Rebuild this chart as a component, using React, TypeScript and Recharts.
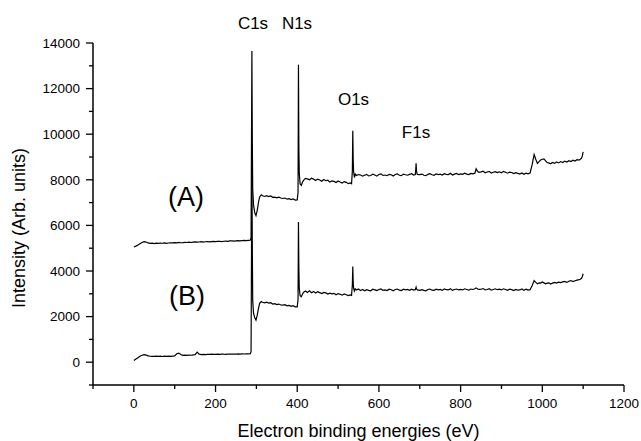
import React from 'react';
import { LineChart, Line, XAxis, YAxis } from 'recharts';

// Binding energy grid (eV)
const energy = [
  0, 5, 10, 15, 20, 25, 30, 35, 40, 45,
  50, 55, 60, 65, 70, 75, 80, 85, 90, 95,
  100, 105, 110, 115, 120, 125, 130, 135, 140, 145,
  150, 155, 160, 165, 170, 175, 180, 185, 190, 195,
  200, 205, 210, 215, 220, 225, 230, 235, 240, 245,
  250, 255, 260, 265, 270, 275, 280, 285, 287, 289,
  290, 291, 293, 296, 299, 302, 305, 308, 312, 315,
  320, 325, 330, 335, 340, 345, 350, 355, 360, 365,
  370, 375, 380, 385, 390, 395, 400, 402, 403, 404,
  405, 407, 410, 413, 416, 420, 425, 430, 435, 440,
  445, 450, 455, 460, 465, 470, 475, 480, 485, 490,
  495, 500, 505, 510, 515, 520, 525, 530, 533, 535,
  536, 537, 538, 540, 542, 545, 550, 555, 560, 565,
  570, 575, 580, 585, 590, 595, 600, 605, 610, 615,
  620, 625, 630, 635, 640, 645, 650, 655, 660, 665,
  670, 675, 680, 685, 689, 690, 691, 692, 694, 700,
  705, 710, 715, 720, 725, 730, 735, 740, 745, 750,
  755, 760, 765, 770, 775, 780, 785, 790, 795, 800,
  805, 810, 815, 820, 825, 830, 835, 838, 842, 845,
  850, 855, 860, 865, 870, 875, 880, 885, 890, 895,
  900, 905, 910, 915, 920, 925, 930, 935, 940, 945,
  950, 955, 960, 965, 970, 975, 980, 984, 988, 992,
  996, 1000, 1004, 1008, 1012, 1016, 1020, 1025, 1030, 1035,
  1040, 1045, 1050, 1055, 1060, 1065, 1070, 1075, 1080, 1085,
  1090, 1093, 1096, 1098, 1100,
];

// Spectrum (A)
const intensityA = [
  5050, 5090, 5140, 5200, 5250, 5290, 5270, 5230, 5215, 5225,
  5205, 5220, 5210, 5228, 5218, 5232, 5215, 5228, 5238, 5230,
  5242, 5235, 5252, 5240, 5248, 5258, 5250, 5262, 5250, 5268,
  5280, 5264, 5272, 5290, 5268, 5282, 5288, 5278, 5292, 5302,
  5286, 5296, 5304, 5292, 5306, 5312, 5300, 5318, 5322, 5310,
  5322, 5332, 5320, 5334, 5342, 5330, 5345, 5350, 5450, 13650,
  9800, 7600, 6900, 6550, 6430, 6650, 7000, 7250, 7340, 7300,
  7270, 7300, 7260, 7290, 7230, 7240, 7210, 7240, 7200, 7180,
  7200, 7150, 7170, 7130, 7160, 7110, 7120, 7450, 13050, 9400,
  8300, 7820, 7760, 7900, 7990, 8060, 8040, 8000, 8070, 8030,
  7970, 8030, 7990, 7940, 8010, 7960, 7980, 7900, 7950, 7930,
  7880, 7950, 7900, 7860, 7920, 7890, 7830, 7860, 7830, 8400,
  10150, 8900, 8350, 8100, 8250, 8190, 8230, 8210, 8160, 8200,
  8240, 8170, 8190, 8250, 8210, 8160, 8230, 8260, 8190, 8210,
  8180, 8240, 8220, 8170, 8230, 8260, 8200, 8180, 8250, 8220,
  8200, 8240, 8270, 8210, 8230, 8400, 8720, 8380, 8240, 8230,
  8250, 8200, 8180, 8240, 8270, 8220, 8200, 8260, 8230, 8250,
  8210, 8270, 8240, 8230, 8290, 8210, 8250, 8280, 8230, 8260,
  8240, 8290, 8250, 8230, 8280, 8260, 8290, 8480, 8360, 8330,
  8350, 8380, 8310, 8340, 8370, 8300, 8330, 8360, 8320, 8350,
  8310, 8370, 8330, 8290, 8340, 8320, 8270, 8310, 8280, 8250,
  8300, 8240, 8290, 8260, 8300, 8650, 9110, 8900, 8720, 8800,
  8870, 8900, 8920, 8830, 8760, 8740, 8700, 8760, 8720, 8780,
  8740, 8800, 8760, 8820, 8780, 8840, 8800, 8860, 8820, 8880,
  8860, 8900, 8950, 9050, 9220,
];

// Spectrum (B)
const intensityB = [
  75, 140, 200, 260, 305, 335, 310, 275, 262, 255,
  252, 268, 256, 262, 250, 266, 256, 262, 252, 266,
  272, 370, 400, 340, 300, 312, 298, 312, 305, 322,
  330, 440, 352, 332, 342, 336, 346, 340, 350, 346,
  342, 352, 346, 356, 350, 346, 356, 350, 360, 356,
  350, 362, 356, 366, 360, 370, 364, 372, 460, 8600,
  5200, 2700, 2150, 1950, 1850, 2050, 2350, 2580, 2660, 2630,
  2600, 2630, 2590, 2610, 2550, 2570, 2530, 2550, 2510, 2500,
  2520, 2470, 2490, 2450, 2480, 2430, 2430, 2750, 6150, 4100,
  3250, 2920, 2870, 2990, 3070, 3120, 3060, 3130, 3050, 3100,
  3030, 3090, 3050, 3010, 3060, 3040, 2990, 3030, 3000, 3020,
  2960, 3010, 2980, 2940, 2990, 2960, 2920, 2950, 2930, 3400,
  4200, 3500, 3250, 3120, 3220, 3170, 3210, 3140, 3190, 3130,
  3180, 3150, 3130, 3200, 3170, 3140, 3190, 3210, 3150, 3170,
  3140, 3200, 3180, 3130, 3190, 3210, 3160, 3140, 3200, 3170,
  3190, 3150, 3200, 3160, 3180, 3230, 3290, 3220, 3170, 3150,
  3180, 3150, 3130, 3190, 3210, 3160, 3150, 3200, 3170, 3190,
  3150, 3210, 3180, 3170, 3220, 3150, 3190, 3210, 3170, 3190,
  3170, 3220, 3190, 3160, 3210, 3190, 3220, 3260, 3210, 3190,
  3200, 3230, 3170, 3190, 3220, 3160, 3190, 3220, 3180, 3200,
  3170, 3220, 3190, 3150, 3200, 3180, 3140, 3190, 3160, 3170,
  3210, 3150, 3200, 3160, 3180, 3350, 3580, 3500, 3440, 3480,
  3470, 3520, 3480, 3440, 3470, 3480, 3430, 3470, 3500, 3470,
  3510, 3490, 3520, 3540, 3500, 3550, 3580, 3540, 3570, 3600,
  3620, 3640, 3680, 3760, 3880,
];

const xTicks = [-100, 0, 100, 200, 300, 400, 500, 600, 700, 800, 900, 1000, 1100, 1200];
const yTicks = [-1000, 0, 1000, 2000, 3000, 4000, 5000, 6000, 7000, 8000, 9000, 10000, 11000, 12000, 13000, 14000];
const peakNames = ['C1s', 'N1s', 'O1s', 'F1s'];
const sampleNames = ['(A)', '(B)'];
const xTitle = 'Electron binding energies (eV)';
const yTitle = 'Intensity (Arb. units)';

const rows = energy.map((e, i) => ({ e, a: intensityA[i], b: intensityB[i] }));

const FONT = '"Liberation Sans", Arial, Helvetica, sans-serif';
const TICK = 7;
const GAP = 6;

const YTick = (props: any) => {
  const { x, y, payload } = props;
  const v = payload.value;
  const major = v % 2000 === 0;
  const axisX = x + TICK + GAP;
  return (
    <g>
      <line x1={axisX - (major ? TICK : 4)} x2={axisX} y1={y} y2={y} stroke="#000" strokeWidth={1.3} />
      {major && (
        <text x={x} y={y} dy="0.355em" textAnchor="end" fontSize={13.5} fontFamily={FONT} fill="#000">
          {v}
        </text>
      )}
    </g>
  );
};

const XTick = (props: any) => {
  const { x, y, payload } = props;
  const v = payload.value;
  const major = v % 200 === 0;
  const axisY = y - TICK - GAP;
  return (
    <g>
      <line x1={x} x2={x} y1={axisY} y2={axisY + (major ? TICK : 4)} stroke="#000" strokeWidth={1.3} />
      {major && (
        <text x={x} y={y} dy="0.71em" textAnchor="middle" fontSize={13.5} fontFamily={FONT} fill="#000">
          {v}
        </text>
      )}
    </g>
  );
};

export default function App() {
  return (
    <div style={{ position: 'absolute', left: 0, top: 0, width: 641, height: 441, background: '#fff' }}>
      <LineChart width={641} height={441} data={rows} margin={{ top: 43, right: 17, bottom: 0, left: 0 }}>
        <XAxis
          type="number"
          dataKey="e"
          domain={[-100, 1200]}
          ticks={xTicks}
          interval={0}
          height={56}
          axisLine={{ stroke: '#000', strokeWidth: 1.5 }}
          tickLine={false}
          tickSize={TICK}
          tickMargin={GAP}
          tick={<XTick />}
          allowDataOverflow
        />
        <YAxis
          type="number"
          domain={[-1000, 14000]}
          ticks={yTicks}
          interval={0}
          width={93}
          axisLine={{ stroke: '#000', strokeWidth: 1.5 }}
          tickLine={false}
          tickSize={TICK}
          tickMargin={GAP}
          tick={<YTick />}
          allowDataOverflow
        />
        <Line type="linear" dataKey="a" stroke="#000" strokeWidth={1.2} dot={false} isAnimationActive={false} />
        <Line type="linear" dataKey="b" stroke="#000" strokeWidth={1.2} dot={false} isAnimationActive={false} />
        <g fontFamily={FONT} fill="#000">
          <text x={253} y={29} fontSize={17} textAnchor="middle">{peakNames[0]}</text>
          <text x={297} y={29} fontSize={17} textAnchor="middle">{peakNames[1]}</text>
          <text x={353.5} y={105} fontSize={17} textAnchor="middle">{peakNames[2]}</text>
          <text x={416} y={138} fontSize={17} textAnchor="middle">{peakNames[3]}</text>
          <text x={168} y={205.5} fontSize={27}>{sampleNames[0]}</text>
          <text x={169} y={304.5} fontSize={27}>{sampleNames[1]}</text>
          <text x={358.5} y={437} fontSize={18} textAnchor="middle">{xTitle}</text>
          <text x={24.5} y={228} fontSize={18} textAnchor="middle" transform="rotate(-90, 24.5, 228)">{yTitle}</text>
        </g>
      </LineChart>
    </div>
  );
}
